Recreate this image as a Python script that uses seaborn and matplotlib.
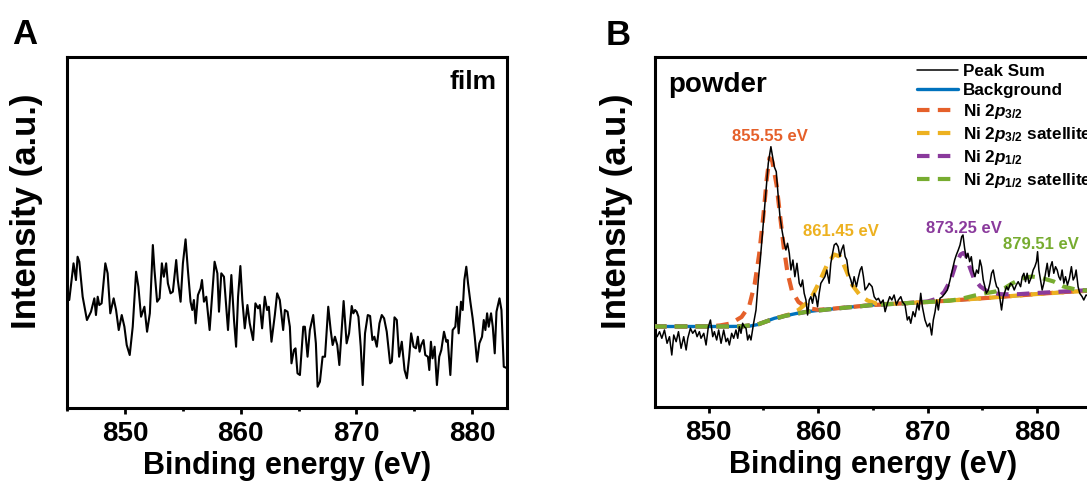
import matplotlib
matplotlib.use('Agg')
import matplotlib.pyplot as plt
import seaborn as sns
from matplotlib.ticker import MultipleLocator

# ---- panel A: film (Binding energy in eV, intensity in a.u.) ----
film_ev = [
    845.17, 845.54, 845.75, 845.89, 846.04, 846.33, 846.70, 847.05, 847.34, 847.48,
    847.63, 847.77, 847.97, 848.29, 848.49, 848.72, 849.01, 849.22, 849.45, 849.71,
    849.94, 850.14, 850.40, 850.66, 850.95, 851.15, 851.38, 851.67, 851.90, 852.14,
    852.40, 852.54, 852.77, 852.98, 853.18, 853.35, 853.55, 853.70, 853.93, 854.13,
    854.42, 854.56, 854.80, 855.00, 855.23, 855.43, 855.66, 855.81, 855.95, 856.10,
    856.30, 856.53, 856.65, 856.82, 857.02, 857.31, 857.74, 857.98, 858.12, 858.32,
    858.55, 858.90, 859.19, 859.42, 859.60, 859.77, 859.97, 860.14, 860.35, 860.58,
    860.78, 861.07, 861.27, 861.50, 861.65, 861.85, 862.08, 862.28, 862.43, 862.66,
    862.95, 863.15, 863.38, 863.67, 863.82,
    864.05, 864.25, 864.39, 864.60, 864.74, 864.91, 865.12, 865.41, 865.55, 865.78,
    865.98, 866.27, 866.50, 866.65, 866.85, 867.08, 867.29, 867.57, 867.78, 867.95,
    868.15, 868.35, 868.53, 868.90, 869.16, 869.37, 869.60, 869.74, 869.89, 870.03,
    870.18, 870.38, 870.55, 870.75, 870.99, 871.19, 871.39, 871.56, 871.77, 872.00,
    872.20, 872.40, 872.63, 872.92, 873.07, 873.30, 873.50, 873.70, 873.93, 874.17,
    874.37, 874.57, 874.74, 874.95, 875.15, 875.32, 875.47, 875.61, 875.81, 875.96,
    876.19, 876.31, 876.45, 876.59, 876.77, 876.97, 877.17, 877.35, 877.58, 877.78,
    877.90, 878.13, 878.33, 878.56, 878.70, 878.85, 879.05, 879.20, 879.34, 879.51,
    879.66, 879.86, 880.06, 880.24, 880.44, 880.64, 880.87, 881.02, 881.16, 881.31,
    881.45, 881.65, 881.80, 881.97, 882.12, 882.38, 882.55, 882.75, 883.00,
]
film_int = [
    108, 144.7, 128, 151.3, 146.3, 111.3, 88, 96.3, 109.7, 93,
    111.3, 103, 104.7, 144.7, 134.7, 94.7, 109.7, 98, 78, 93,
    81.3, 63, 53, 81.3, 136.3, 121.3, 91.3, 101.3, 76.3, 94.7,
    163, 138, 106.3, 109.7, 144.7, 131.3, 144.7, 124.7, 114.7, 116.3,
    148, 128, 106.3, 144.7, 168.7, 138, 106.3, 98, 108, 84.7,
    113, 119.7, 128, 106.3, 111.3, 78, 146.3, 134.7, 96.3, 134.7,
    131.3, 78, 133, 88, 61.3, 111.3, 142, 108, 79.7, 103,
    84.7, 68, 104.7, 99.7, 103, 79.7, 111.3, 98, 101.3, 66.3,
    93, 114.7, 108, 78, 98,
    96.3, 81.3, 44.7, 58, 59.7, 34.7, 33, 81.3, 81.3, 51.3,
    78, 93, 64.7, 21.3, 26.3, 51.3, 51.3, 101.3, 78, 63,
    71.3, 63, 43, 107, 64.7, 74.7, 102, 94.7, 98, 96.3,
    91.3, 61.3, 23, 74.7, 93, 92, 68, 71.3, 61.3, 84.7,
    93, 89.7, 76.3, 44.7, 46.3, 90.7, 88, 51.3, 66.3, 38,
    29.7, 51.3, 74.7, 61.3, 59.7, 71.3, 56.3, 63, 68, 53,
    51.3, 38, 66.3, 49.7, 61.3, 23, 51.3, 58, 76.3, 66.3,
    68, 33, 78, 81.3, 101.3, 74.7, 106.3, 98, 128, 141.3,
    124.7, 106.3, 89.7, 71.3, 46.3, 64.7, 71.3, 88, 78, 94.7,
    81.3, 94.7, 81.3, 54.7, 96.3, 109.7, 98, 41.3, 40,
]

# ---- panel B: powder, measured spectrum ----
powder_ev = [
    845.10, 845.29, 845.51, 845.72, 845.96, 846.20, 846.42, 846.63, 846.81, 847.03,
    847.24, 847.48, 847.72, 847.94, 848.09, 848.33, 848.54, 848.76, 848.94, 849.15,
    849.30, 849.55, 849.76, 849.97, 850.16, 850.37, 850.52, 850.73, 850.91, 851.13,
    851.37, 851.58, 851.73, 851.89, 852.10, 852.28, 852.49, 852.65, 852.80, 852.95,
    853.10, 853.25, 853.41, 853.56, 853.71, 853.86, 854.10, 854.32, 854.53, 854.71,
    854.86, 855.08, 855.26, 855.44, 855.59, 855.68, 855.84, 855.99, 856.17, 856.35,
    856.51, 856.69, 856.90, 857.05, 857.20, 857.36, 857.51, 857.69, 857.87, 858.06,
    858.27, 858.42, 858.57, 858.72, 858.88, 859.03, 859.18, 859.33, 859.48, 859.64,
    859.79, 859.94, 860.09, 860.24, 860.43, 860.61, 860.79, 861.00, 861.15, 861.31,
    861.46, 861.64, 861.82, 861.98, 862.13, 862.31, 862.46, 862.61, 862.77, 862.98,
    863.13, 863.28, 863.49, 863.65, 863.83, 863.98, 864.13, 864.28, 864.50, 864.65,
    864.92,
    865.11, 865.32, 865.50, 865.71, 865.93, 866.11, 866.32, 866.53, 866.72, 866.93,
    867.14, 867.32, 867.54, 867.69, 867.93, 868.14, 868.30, 868.45, 868.66, 868.84,
    869.06, 869.21, 869.36, 869.51, 869.75, 869.97, 870.18, 870.36, 870.51, 870.67,
    870.82, 870.97, 871.12, 871.33, 871.58, 871.79, 872.00, 872.25, 872.46, 872.61,
    872.79, 872.95, 873.10, 873.22, 873.37, 873.52, 873.67, 873.83, 873.98, 874.13,
    874.31, 874.46, 874.62, 874.77, 874.92, 875.07, 875.22, 875.35, 875.53, 875.68,
    875.83, 875.98, 876.14, 876.29, 876.44, 876.59, 876.74, 876.90, 877.05, 877.20,
    877.35, 877.56, 877.72, 877.90, 878.08, 878.26, 878.48, 878.63, 878.78, 878.93,
    879.08, 879.24, 879.48, 879.63, 879.78, 879.93, 880.03, 880.15, 880.30, 880.45,
    880.60, 880.75, 880.91, 881.06, 881.21, 881.36, 881.51, 881.67, 881.82, 881.97,
    882.12, 882.27, 882.43, 882.58, 882.76, 882.94, 883.12, 883.28, 883.43, 883.55,
    883.73, 883.88, 884.10, 884.25, 884.46, 884.80, 885.20,
]
powder_int = [
    72, 70.3, 75.3, 68.7, 77, 63.7, 70.3, 52, 72, 65.3,
    75.3, 58.7, 70.3, 57, 68.7, 78.7, 73.7, 77, 70.3, 75.3,
    68.7, 73.7, 62, 80.3, 87, 70.3, 75.3, 67, 77, 63.7,
    77, 65.3, 68.7, 62, 73.7, 68.7, 77, 68.7, 80.3, 73.7,
    83.7, 80.3, 78.7, 67, 72, 67, 83.7, 97, 127, 147,
    167, 197, 220.3, 243.7, 253.7, 260.3, 250.3, 240.3, 235.3, 210.3,
    190.3, 177, 163.7, 157, 163.7, 153.7, 137, 147, 130.3, 143.7,
    123.7, 120.3, 127, 113.7, 107, 92, 107, 110.3, 103.7, 113.7,
    110.3, 100.3, 113.7, 123.7, 127, 130.3, 137, 123.7, 143.7, 153.7,
    162, 163.7, 160.3, 150.3, 157, 162, 150.3, 147, 133.7, 127,
    120.3, 130.3, 120.3, 128.7, 137, 140.3, 130.3, 117, 120.3, 123.7,
    120.3,
    110.3, 107, 108.7, 103.7, 107, 95.3, 103.7, 110.3, 107, 112,
    102, 107, 110.3, 105.3, 102, 87, 90.3, 83.7, 95.3, 90.3,
    103.7, 97, 113.7, 100.3, 87, 80.3, 83.7, 72, 87, 95.3,
    107, 97, 108.7, 110.3, 113.7, 117, 125.3, 137, 147, 152,
    157, 162, 170.3, 172, 158.7, 148.7, 153.7, 145.3, 150.3, 137,
    130.3, 137, 133.7, 147, 140.3, 127, 120.3, 113.7, 117, 123.7,
    133.7, 137, 127, 120.3, 118.7, 108.7, 97, 110.3, 115.3, 120.3,
    117, 123.7, 122, 117, 122, 125.3, 120.3, 130.3, 133.7, 125.3,
    133.7, 123.7, 130.3, 137, 140.3, 145.3, 155.3, 137, 127, 117,
    123.7, 133.7, 143.7, 130.3, 140.3, 145.3, 133.7, 140.3, 137, 130.3,
    127, 137, 123.7, 130.3, 122, 128.7, 140.3, 127, 130.3, 137,
    120.3, 113.7, 110.3, 107, 112, 110, 112,
]

# ---- panel B: fitted components ----
bg_ev = [845, 847, 849, 851, 853, 853.8, 854.5, 855.2, 856, 857, 858, 859,
         860, 861.5, 863, 865, 867.5, 870, 872.5, 875, 877.5, 880, 882.5, 885]
bg_int = [80.5, 80.5, 80.5, 80.5, 80.6, 81, 82.5, 85.5, 88.7, 91.2, 93.5, 95.3,
          96.6, 98.3, 100, 102, 103.5, 105, 106.8, 108.7, 110.8, 113, 115, 116.5]

p32_ev = [845, 848, 850, 851, 852, 853, 853.7, 854.2, 854.6, 855.0,
          855.3, 855.55, 855.8, 856.2, 856.5, 856.85, 857.2, 857.6, 858.2, 859.0,
          860, 861, 863, 865, 867.5, 870, 872.5, 875, 877.5, 880, 882.5, 885]
p32_int = [80.5, 80.5, 80.8, 81.5, 83.5, 90, 101, 123, 152, 192,
           228, 249, 246, 222, 193, 160, 134, 116, 105, 99,
           97.2, 98, 100, 102, 103.5, 105, 106.8, 108.7, 110.8, 113, 115, 116.5]

p32sat_ev = [845, 853, 854.5, 855.5, 856.5, 857.5, 858.2, 858.9, 859.5, 860.1,
             860.8, 861.45, 862.0, 862.5, 863.1, 863.8, 864.5, 865.3, 866.5, 870,
             875, 880, 885]
p32sat_int = [80.5, 80.6, 82.6, 86.5, 90, 93, 97, 103.5, 112, 125,
              142, 152.5, 150.5, 138, 122, 112, 106.5, 103.5, 103, 105,
              108.7, 113, 116.5]

p12_ev = [845, 853, 854.5, 855.5, 857, 859, 861.5, 865, 868, 870,
          870.9, 871.5, 872.1, 872.6, 873.0, 873.25, 873.5, 873.8, 874.2, 874.8,
          875.6, 876.8, 878.3, 880, 882.5, 885]
p12_int = [80.5, 80.6, 82.6, 86.5, 91.2, 95.3, 98.3, 102, 103.8, 105.5,
           108.5, 115, 127, 144, 152.5, 154, 151.5, 141, 129, 120.5,
           114.5, 112.7, 112.8, 114, 115.5, 117]

p12sat_ev = [845, 853, 854.5, 855.5, 857, 859, 861.5, 865, 868, 872,
             873, 874.3, 875.4, 876.2, 877, 877.7, 878.6, 879.5, 880.4, 881.5,
             882.4, 883.5, 884.5, 885]
p12sat_int = [80.5, 80.6, 82.6, 86.5, 91.2, 95.3, 98.3, 102, 103.8, 106.3,
              108, 111.5, 114, 115.5, 118.7, 123.5, 128.5, 130.5, 129, 125.5,
              120.5, 117.5, 116.5, 116.8]

peak_labels = ['855.55 eV', '861.45 eV', '873.25 eV', '879.51 eV']
peak_label_ev = [855.58, 862.10, 873.31, 880.30]
peak_label_int = [270, 175, 178.7, 162]

c_orange = '#E5602A'
c_yellow = '#EDB120'
c_purple = '#8A3A9C'
c_green = '#77AC30'
c_blue = '#0072BD'

sns.set_style('ticks')
plt.rcParams['font.family'] = ['Liberation Sans', 'DejaVu Sans']
plt.rcParams['font.weight'] = 'bold'
plt.rcParams['axes.labelweight'] = 'bold'
plt.rcParams['text.color'] = 'black'
plt.rcParams['axes.labelcolor'] = 'black'
plt.rcParams['xtick.color'] = 'black'
plt.rcParams['ytick.color'] = 'black'
plt.rcParams['mathtext.fontset'] = 'custom'
plt.rcParams['mathtext.rm'] = 'Liberation Sans:bold'
plt.rcParams['mathtext.it'] = 'Liberation Sans:bold:italic'
plt.rcParams['mathtext.bf'] = 'Liberation Sans:bold'


def style_ax(ax, xlim):
    ax.set_xlim(*xlim)
    ax.xaxis.set_major_locator(MultipleLocator(10))
    ax.xaxis.set_minor_locator(MultipleLocator(5))
    ax.set_yticks([])
    ax.tick_params(axis='x', which='major', direction='out', length=4.5,
                   width=2, labelsize=20, pad=5, color='black', labelcolor='black')
    ax.tick_params(axis='x', which='minor', direction='out', length=2.5,
                   width=2, color='black')
    for s in ax.spines.values():
        s.set_linewidth(2.2)
        s.set_color('black')
    ax.set_xlabel('Binding energy (eV)', fontsize=22, fontweight='bold',
                  labelpad=3, color='black')
    ax.set_ylabel('Intensity (a.u.)', fontsize=25, fontweight='bold', color='black')


fig = plt.figure(figsize=(10.87, 4.9), dpi=100)
ax1 = fig.add_axes([0.0619, 0.1673, 0.4042, 0.7163])
ax2 = fig.add_axes([0.6026, 0.1694, 0.4020, 0.7143])

# panel A
sns.lineplot(x=film_ev, y=film_int, ax=ax1, color='black', lw=1.5)
style_ax(ax1, (845, 883))
ax1.set_ylim(0, 351)
ax1.yaxis.set_label_coords(-0.055, 0.56)
ax1.text(0.978, 0.963, 'film', transform=ax1.transAxes, ha='right', va='top',
         fontsize=19, fontweight='bold', color='black')

# panel B
dash = (0, (3, 2))
sns.lineplot(x=bg_ev, y=bg_int, ax=ax2, color=c_blue, lw=2.4, label='Background', zorder=2)
sns.lineplot(x=p32_ev, y=p32_int, ax=ax2, color=c_orange, lw=3, linestyle=dash,
             label=r'Ni 2$p_{3/2}$', zorder=3)
sns.lineplot(x=p32sat_ev, y=p32sat_int, ax=ax2, color=c_yellow, lw=3, linestyle=dash,
             label=r'Ni 2$p_{3/2}$ satellite', zorder=3)
sns.lineplot(x=p12_ev, y=p12_int, ax=ax2, color=c_purple, lw=3, linestyle=dash,
             label=r'Ni 2$p_{1/2}$', zorder=3)
sns.lineplot(x=p12sat_ev, y=p12sat_int, ax=ax2, color=c_green, lw=3, linestyle=dash,
             label=r'Ni 2$p_{1/2}$ satellite', zorder=3)
sns.lineplot(x=powder_ev, y=powder_int, ax=ax2, color='black', lw=1.1,
             label='Peak Sum', zorder=4)
style_ax(ax2, (845.1, 885))
ax2.set_ylim(0, 350)
ax2.yaxis.set_label_coords(-0.050, 0.56)
ax2.text(0.030, 0.957, 'powder', transform=ax2.transAxes, ha='left', va='top',
         fontsize=20, fontweight='bold', color='black')

for txt, xe, yi, c in zip(peak_labels, peak_label_ev, peak_label_int,
                          [c_orange, c_yellow, c_purple, c_green]):
    ax2.text(xe, yi, txt, color=c, ha='center', va='center', fontsize=12,
             fontweight='bold')

handles, labels = ax2.get_legend_handles_labels()
order = ['Peak Sum', 'Background', r'Ni 2$p_{3/2}$', r'Ni 2$p_{3/2}$ satellite',
         r'Ni 2$p_{1/2}$', r'Ni 2$p_{1/2}$ satellite']
hmap = dict(zip(labels, handles))
leg = ax2.legend([hmap[k] for k in order], order, loc='upper left',
                 bbox_to_anchor=(0.585, 1.0), frameon=False,
                 prop={'weight': 'bold', 'size': 12.3}, handlelength=2.4,
                 handletextpad=0.25, labelspacing=0.24, borderaxespad=0.15,
                 borderpad=0.25)
for t in leg.get_texts():
    t.set_color('black')

fig.text(12 / 1087, 1 - 18 / 490, 'A', fontsize=25, fontweight='bold', va='top',
         color='black')
fig.text(606 / 1087, 1 - 19 / 490, 'B', fontsize=25, fontweight='bold', va='top',
         color='black')

fig.savefig('out.png', dpi=100)
